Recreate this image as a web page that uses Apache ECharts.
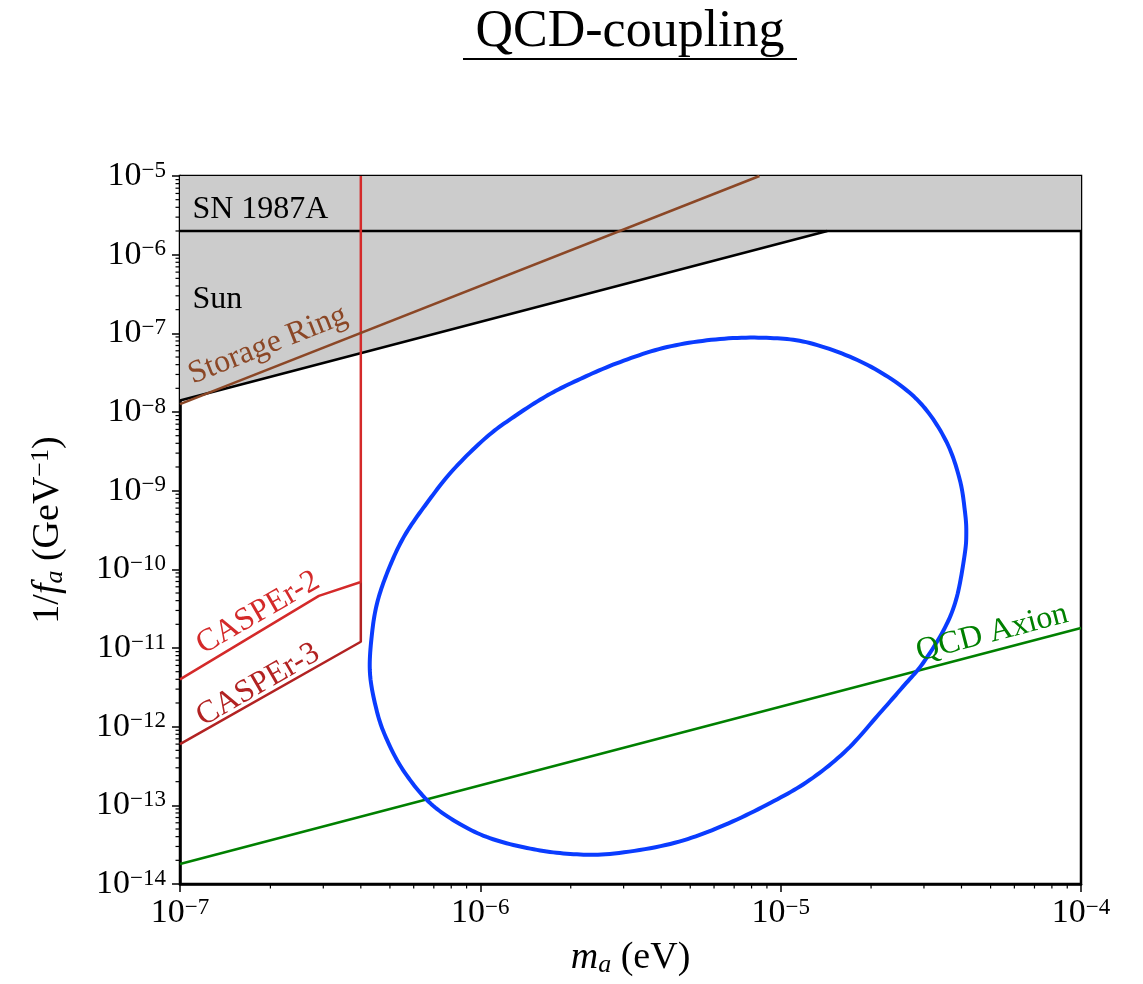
<!DOCTYPE html>
<html>
<head>
<meta charset="utf-8">
<title>QCD-coupling</title>
<script src="https://cdn.jsdelivr.net/npm/echarts@6/dist/echarts.min.js"></script>
<style>
    html, body { margin: 0; padding: 0; background: #fff; }
    #main { width: 1143px; height: 984px; }
</style>
</head>
<body>
<div id="main"></div>
<script>
// axis ticks (decades)
const xTicks = [1e-7, 1e-6, 1e-5, 1e-4];
const yTicks = [1e-14, 1e-13, 1e-12, 1e-11, 1e-10, 1e-9, 1e-8, 1e-7, 1e-6, 1e-5];

// excluded region (SN 1987A band + Sun wedge), vertices [m_a, 1/f_a]
const greyRegion = [[1e-7, 1.4e-8], [1.43e-5, 2e-6], [1e-4, 2e-6], [1e-4, 1e-5], [1e-7, 1e-5]];
const snEdge = [[1e-7, 2e-6], [1e-4, 2e-6]];
const sunEdge = [[1e-7, 1.4e-8], [1.43e-5, 2e-6]];

// projected limits
const storageRing = [[1e-7, 1.26e-8], [8.5e-6, 1e-5]];
const casper2 = [[1e-7, 4.0e-12], [2.9e-7, 4.6e-11], [4e-7, 6.9e-11], [4e-7, 1e-5]];
const casper3 = [[1e-7, 6.0e-13], [4e-7, 1.2e-11], [4e-7, 6.9e-11]];
const qcdAxion = [[1e-7, 1.8e-14], [1e-4, 1.8e-11]];

// closed contour (clockwise from the top)
const contour = [
    [6.28e-6, 8.47e-8], [9.23e-6, 8.73e-8], [1.25e-5, 7.53e-8], [1.80e-5, 4.58e-8],
    [2.44e-5, 2.34e-8], [3.02e-5, 1.12e-8], [3.58e-5, 4.04e-9], [3.95e-5, 1.37e-9],
    [4.11e-5, 5.30e-10], [4.15e-5, 2.90e-10], [4.10e-5, 1.55e-10], [3.86e-5, 4.46e-11],
    [3.52e-5, 1.80e-11], [2.98e-5, 6.45e-12], [2.55e-5, 3.20e-12], [2.14e-5, 1.49e-12],
    [1.66e-5, 5.06e-13], [1.25e-5, 2.10e-13], [9.23e-6, 1.07e-13], [6.28e-6, 5.31e-14],
    [4.29e-6, 3.23e-14], [2.70e-6, 2.41e-14], [1.94e-6, 2.43e-14], [1.43e-6, 2.87e-14],
    [1.05e-6, 3.96e-14], [8.11e-7, 6.52e-14], [6.64e-7, 1.17e-13], [5.53e-7, 2.81e-13],
    [4.89e-7, 6.78e-13], [4.53e-7, 1.54e-12], [4.29e-7, 4.81e-12], [4.36e-7, 1.55e-11],
    [4.56e-7, 4.07e-11], [5.00e-7, 1.10e-10], [5.61e-7, 2.73e-10], [6.64e-7, 6.97e-10],
    [8.11e-7, 1.83e-9], [1.05e-6, 4.81e-9], [1.32e-6, 9.16e-9], [1.68e-6, 1.64e-8],
    [2.15e-6, 2.63e-8], [2.92e-6, 4.32e-8], [4.19e-6, 6.70e-8]
];

// minor tick positions 2..9 per decade
let xMinor = [];
let yMinor = [];
for (let e = -7; e < -4; e++) for (let k = 2; k <= 9; k++) xMinor.push(k * Math.pow(10, e));
for (let e = -14; e < -5; e++) for (let k = 2; k <= 9; k++) yMinor.push(k * Math.pow(10, e));

const FONT = '"Liberation Serif", "DejaVu Serif", serif';

const powLabel = (v) => {
    let e = Math.round(Math.log10(v));
    return '{b|10}{s|' + (e < 0 ? '\u2212' + (-e) : e) + '}';
};
const powRich = {
    b: { fontSize: 34, fontFamily: FONT, color: '#000', lineHeight: 34 },
    s: { fontSize: 23, fontFamily: FONT, color: '#000', verticalAlign: 'top', lineHeight: 34 }
};

// closed Catmull-Rom through pixel points
const closedSpline = (pts, steps) => {
    let out = [];
    let n = pts.length;
    for (let i = 0; i < n; i++) {
        let p0 = pts[(i - 1 + n) % n], p1 = pts[i], p2 = pts[(i + 1) % n], p3 = pts[(i + 2) % n];
        for (let s = 0; s < steps; s++) {
            let t = s / steps, t2 = t * t, t3 = t2 * t;
            let f = (a, b, c, d) => 0.5 * (2 * b + (c - a) * t + (2 * a - 5 * b + 4 * c - d) * t2 + (3 * b - a - 3 * c + d) * t3);
            out.push([f(p0[0], p1[0], p2[0], p3[0]), f(p0[1], p1[1], p2[1], p3[1])]);
        }
    }
    out.push(out[0]);
    return out;
};

const textMark = (text, pos, color, rotate, align) => ({
    type: 'scatter',
    data: [pos],
    symbolSize: 0,
    silent: true,
    z: 6,
    itemStyle: { opacity: 1 },
    label: {
        show: true,
        formatter: text,
        position: align === 'left' ? 'right' : 'inside',
        distance: 0,
        rotate: rotate,
        color: color,
        opacity: 1,
        fontSize: 32,
        fontFamily: FONT
    }
});

const line = (data, color, width, z) => ({
    type: 'line',
    data: data,
    showSymbol: false,
    silent: true,
    z: z || 3,
    lineStyle: { color: color, width: width }
});

const chart = echarts.init(document.getElementById('main'));
const option = {
    animation: false,
    backgroundColor: '#fff',
    grid: {
        left: 180, right: 62, top: 176, bottom: 100,
        show: true, borderColor: '#000', borderWidth: 2.5, backgroundColor: 'transparent'
    },
    xAxis: {
        type: 'log', logBase: 10, min: xTicks[0], max: xTicks[xTicks.length - 1], interval: 1,
        axisLine: { lineStyle: { color: '#000', width: 2.5 } },
        axisTick: { inside: false, length: 8, lineStyle: { color: '#000', width: 1.5 } },
        axisLabel: { margin: 12, formatter: powLabel, rich: powRich },
        splitLine: { show: false },
        name: '{i|m}{sub|a}{n| (eV)}',
        nameLocation: 'middle', nameGap: 54,
        nameTextStyle: {
            rich: {
                i: { fontSize: 38, fontFamily: FONT, fontStyle: 'italic', color: '#000', lineHeight: 40 },
                sub: { fontSize: 26, fontFamily: FONT, fontStyle: 'italic', color: '#000', verticalAlign: 'bottom', lineHeight: 40 },
                n: { fontSize: 38, fontFamily: FONT, color: '#000', lineHeight: 40 }
            }
        }
    },
    yAxis: {
        type: 'log', logBase: 10, min: yTicks[0], max: yTicks[yTicks.length - 1], interval: 1,
        axisLine: { lineStyle: { color: '#000', width: 2.5 } },
        axisTick: { inside: false, length: 8, lineStyle: { color: '#000', width: 1.5 } },
        axisLabel: { margin: 14, formatter: powLabel, rich: powRich },
        splitLine: { show: false },
        name: '{n|1/}{i|f}{sub|a}{n| (GeV}{sup|\u22121}{n|)}',
        nameLocation: 'middle', nameGap: 112,
        nameTextStyle: {
            rich: {
                n: { fontSize: 38, fontFamily: FONT, color: '#000', lineHeight: 40 },
                i: { fontSize: 38, fontFamily: FONT, fontStyle: 'italic', color: '#000', lineHeight: 40 },
                sub: { fontSize: 26, fontFamily: FONT, fontStyle: 'italic', color: '#000', verticalAlign: 'bottom', lineHeight: 40 },
                sup: { fontSize: 26, fontFamily: FONT, color: '#000', verticalAlign: 'top', lineHeight: 40 }
            }
        }
    },
    graphic: [
        {
            type: 'text', x: 630, y: 32, z: 10,
            style: { text: 'QCD-coupling', font: '52px ' + FONT, fill: '#000', align: 'center', verticalAlign: 'middle' }
        },
        {
            type: 'line', z: 10,
            shape: { x1: 463, y1: 59, x2: 797, y2: 59 },
            style: { stroke: '#000', lineWidth: 2 }
        }
    ],
    series: [
        {
            type: 'custom',
            data: [[1e-6, 1e-6]],
            silent: true,
            z: 1,
            renderItem: (params, api) => ({
                type: 'polygon',
                shape: { points: greyRegion.map(p => api.coord(p)) },
                style: { fill: '#cccccc' }
            })
        },
        {
            type: 'custom',
            data: xMinor.map(v => [v, yTicks[0]]),
            silent: true,
            clip: false,
            renderItem: (params, api) => {
                let p = api.coord([api.value(0), api.value(1)]);
                return { type: 'line', shape: { x1: p[0], y1: p[1], x2: p[0], y2: p[1] + 4.5 }, style: { stroke: '#000', lineWidth: 1.2 } };
            }
        },
        {
            type: 'custom',
            data: yMinor.map(v => [xTicks[0], v]),
            silent: true,
            clip: false,
            renderItem: (params, api) => {
                let p = api.coord([api.value(0), api.value(1)]);
                return { type: 'line', shape: { x1: p[0], y1: p[1], x2: p[0] - 4.5, y2: p[1] }, style: { stroke: '#000', lineWidth: 1.2 } };
            }
        },
        line(snEdge, '#000', 2.5),
        line(sunEdge, '#000', 2.5),
        line(casper3, '#b22222', 2.5),
        line(casper2, '#d42a2a', 2.5, 4),
        line(storageRing, '#8b4726', 2.5, 4),
        line(qcdAxion, '#008000', 2.5),
        {
            type: 'custom',
            data: [[2e-6, 1e-10]],
            silent: true,
            z: 5,
            renderItem: (params, api) => ({
                type: 'polyline',
                shape: { points: closedSpline(contour.map(p => api.coord(p)), 12) },
                style: { fill: null, stroke: '#0a3cff', lineWidth: 4, lineJoin: 'round' }
            })
        },
        textMark('SN 1987A', [1.1e-7, 3.7e-6], '#000', 0, 'left'),
        textMark('Sun', [1.1e-7, 2.65e-7], '#000', 0, 'left'),
        textMark('Storage Ring', [1.96e-7, 7.1e-8], '#8b4726', 21.5),
        textMark('CASPEr-2', [1.82e-7, 2.8e-11], '#d42a2a', 30),
        textMark('CASPEr-3', [1.82e-7, 3.4e-12], '#b22222', 30),
        textMark('QCD Axion', [5.06e-5, 1.55e-11], '#008000', 14.6)
    ]
};
chart.setOption(option);
</script>
</body>
</html>
